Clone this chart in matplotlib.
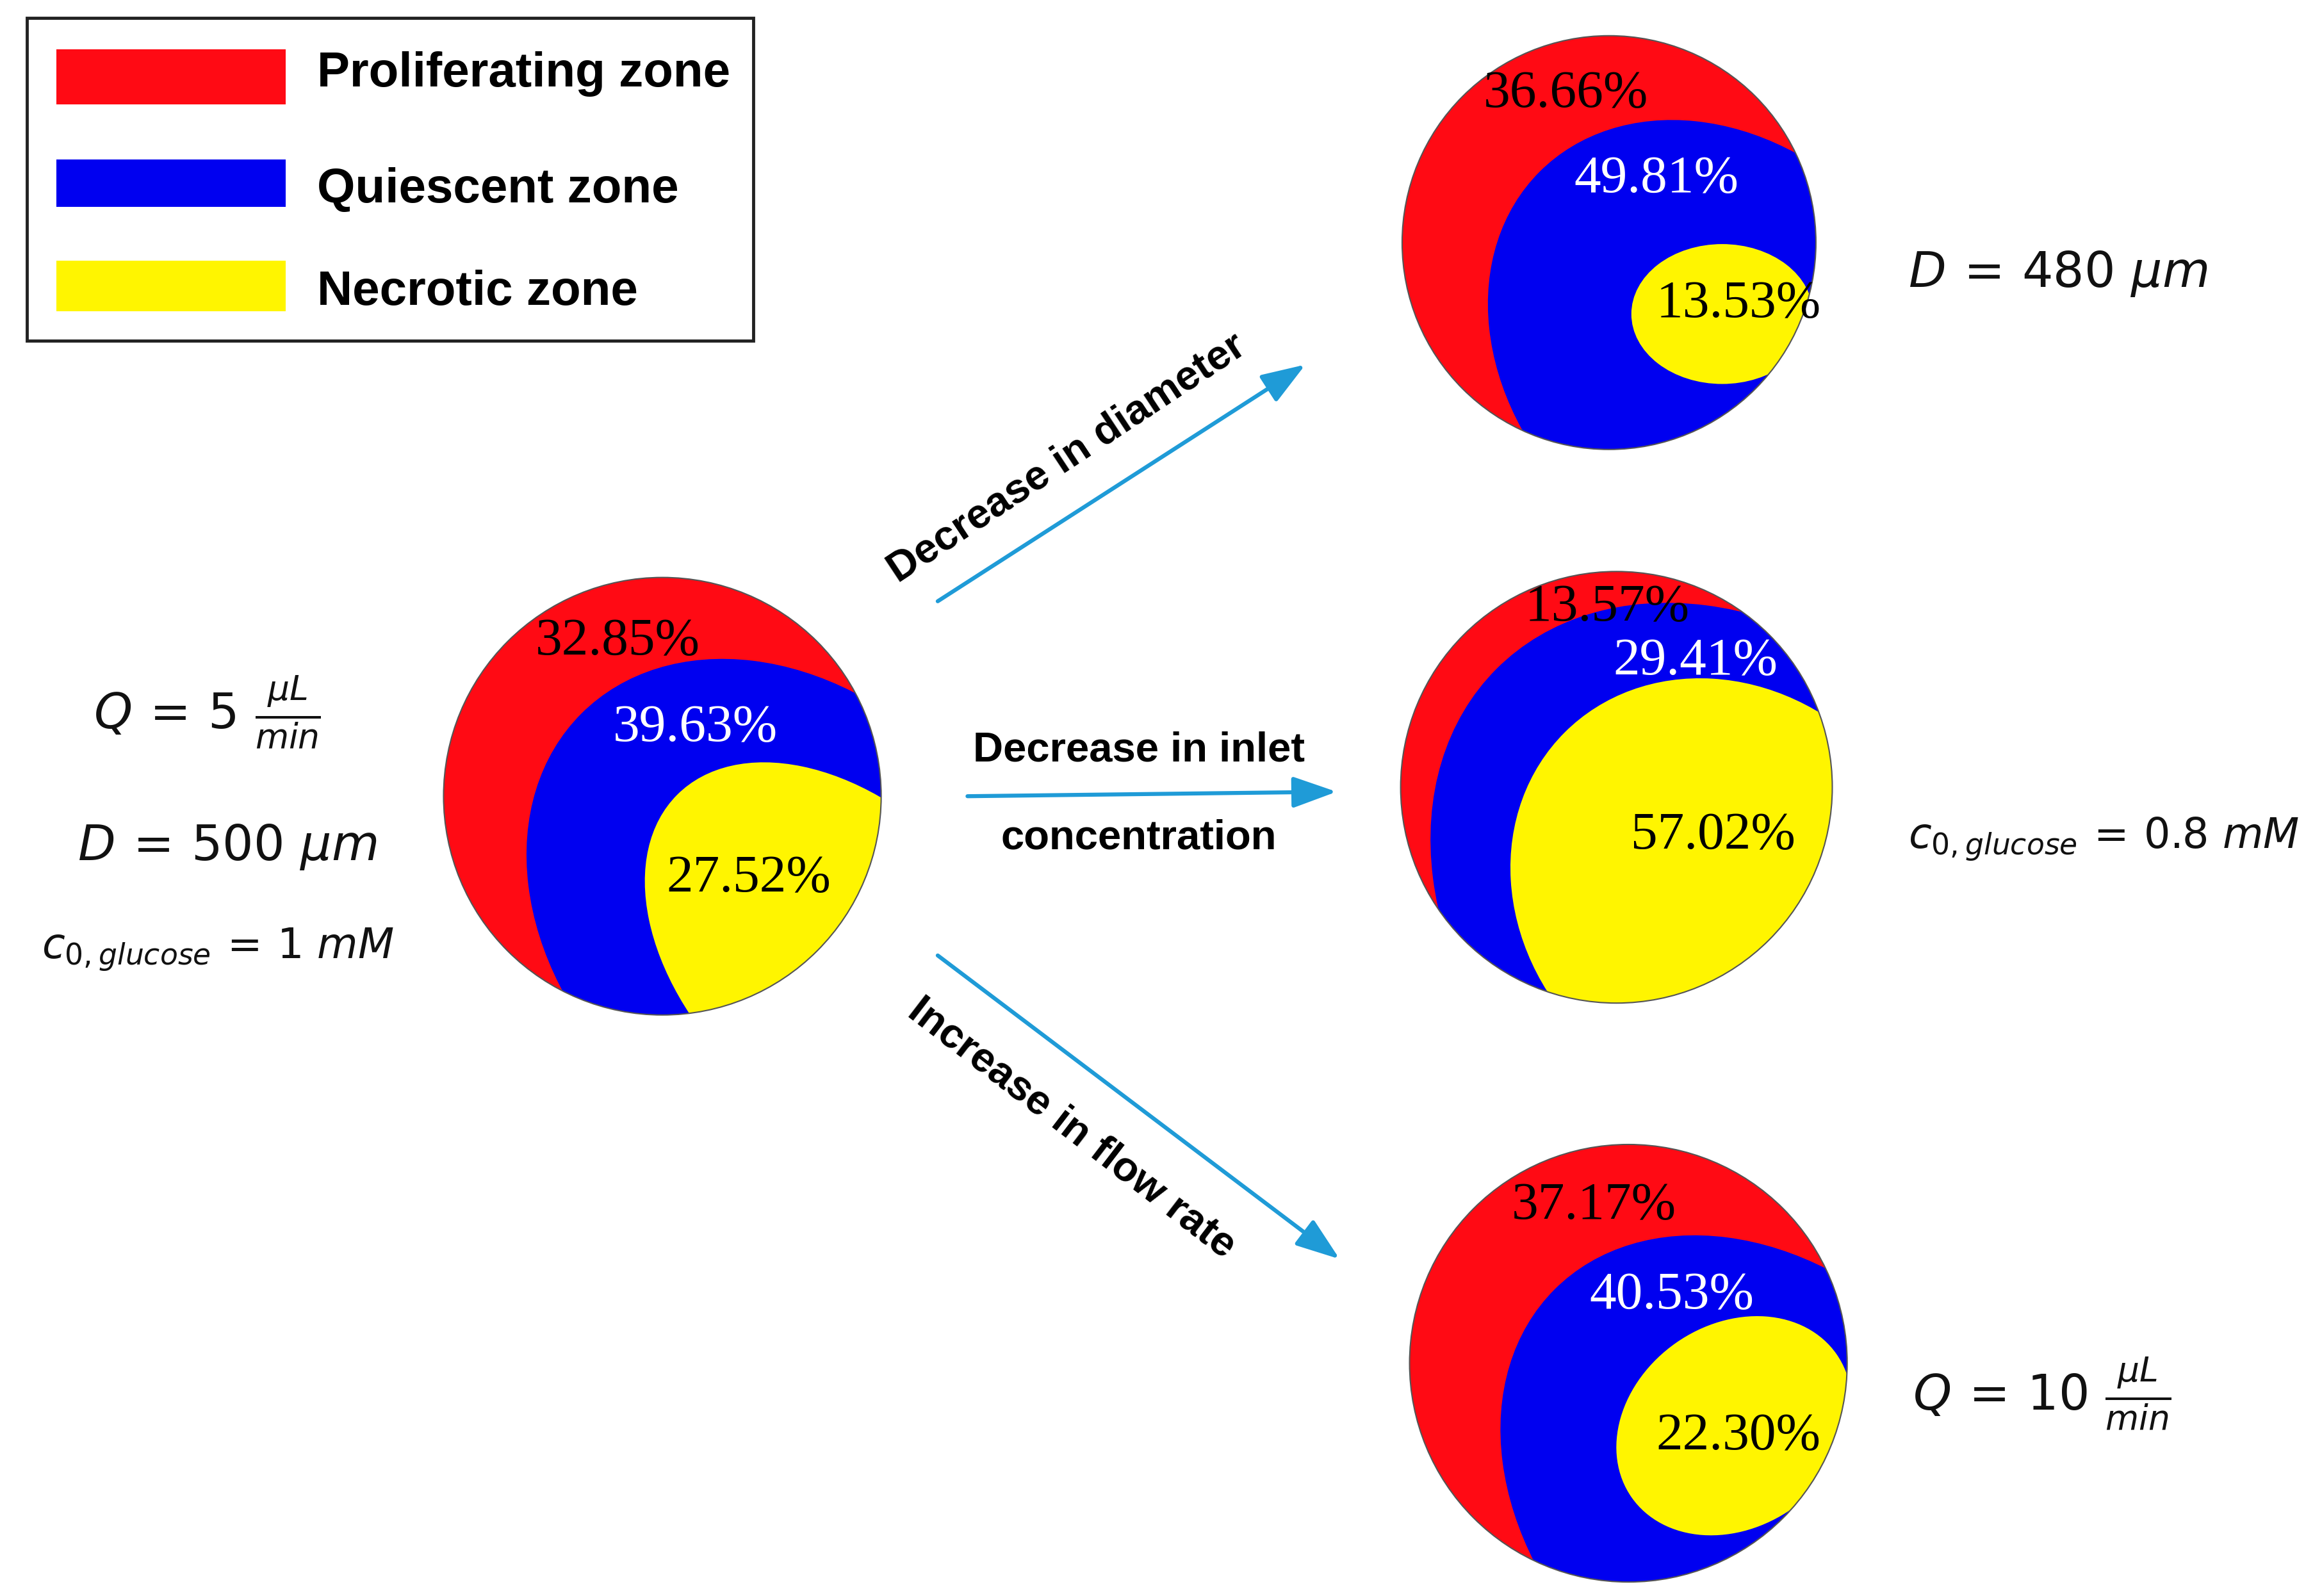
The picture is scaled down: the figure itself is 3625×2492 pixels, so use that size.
import matplotlib
matplotlib.use("Agg")
import matplotlib.pyplot as plt
from matplotlib.patches import Circle, Ellipse, Rectangle

# zone fractions (%) of the tumour spheroid for each case
cases = ["reference", "smaller diameter", "lower inlet glucose", "higher flow rate"]
proliferating = [32.85, 36.66, 13.57, 37.17]
quiescent = [39.63, 49.81, 29.41, 40.53]
necrotic = [27.52, 13.53, 57.02, 22.30]

zone_names = ["Proliferating zone", "Quiescent zone", "Necrotic zone"]
zone_colors = ["#ff0a14", "#0000f0", "#fff500"]
pct_colors = ["black", "white", "black"]

left_params = [r"$Q\,=\,5\ \frac{\mu L}{min}$", r"$D\,=\,500\ \mu m$",
               r"$c_{0,glucose}\,=\,1\ mM$"]
right_params = [r"$D\,=\,480\ \mu m$", r"$c_{0,glucose}\,=\,0.8\ mM$",
                r"$Q\,=\,10\ \frac{\mu L}{min}$"]
arrow_texts = ["Decrease in diameter", "Decrease in inlet", "concentration",
               "Increase in flow rate"]

# ---- layout (canvas units, y grows downwards) ----
W, H = 1560, 1072.4
disk_xy = [(445, 535), (1081, 163), (1086, 529), (1094, 916)]
disk_r = [147, 139, 145, 147]
# fronts of quiescent / necrotic zones: (centre, width, height, angle), clipped by disk
blue_fronts = [((527, 616), 302, 386, -45), ((1156, 237), 278, 344, -45),
               ((1173, 617), 367, 474, -45), ((1183, 1005), 302, 392, -45)]
yellow_fronts = [((566, 645), 206, 314, -45), ((1157, 211), 122, 94, 0),
                 ((1159, 600), 271, 305, -45), ((1165, 958), 168, 136, -35)]
pct_xy = [[(415, 428), (467, 486), (503, 587)],
          [(1052, 60), (1113, 117), (1168, 201)],
          [(1080, 405), (1139, 441), (1151, 558)],
          [(1071, 807), (1123, 867), (1168, 962)]]
left_xy = [(63, 490), (52, 578), (28, 644)]
right_xy = [(1282, 193), (1282, 570), (1285, 948)]
arrow_tails = [(630, 404), (650, 535), (630, 642)]
arrow_tips = [(877, 245), (898, 532), (900, 846)]
arrow_text_pos = [(717, 308, 33.5), (765, 504, 0), (765, 563, 0), (720, 758, -37.5)]
arrow_color = "#1f9bd7"

fig = plt.figure(figsize=(36.25, 24.92), dpi=100)
ax = fig.add_axes([0, 0, 1, 1])
ax.set_xlim(0, W)
ax.set_ylim(H, 0)
ax.axis("off")

# legend box
ax.add_patch(Rectangle((18, 12), 488, 217, fill=False, ec="#222222", lw=3.5, zorder=2))
sw_top = [33, 107, 175]
sw_h = [37, 32, 34]
base = [58, 136, 205]
for i in range(3):
    ax.add_patch(Rectangle((38, sw_top[i]), 154, sw_h[i], color=zone_colors[i], lw=0))
    ax.text(213, base[i], zone_names[i], fontsize=55, fontweight="bold",
            family="Liberation Sans", va="baseline", ha="left")

# spheroids
for k in range(len(cases)):
    cx, cy = disk_xy[k]
    disk = Circle((cx, cy), disk_r[k], fc=zone_colors[0], ec="none", zorder=3)
    ax.add_patch(disk)
    (bx, by), bw, bh, ba = blue_fronts[k]
    blue = Ellipse((bx, by), bw, bh, angle=ba, fc=zone_colors[1], ec="none", zorder=4)
    ax.add_patch(blue)
    blue.set_clip_path(disk)
    (yx, yy), yw, yh, ya = yellow_fronts[k]
    yel = Ellipse((yx, yy), yw, yh, angle=ya, fc=zone_colors[2], ec="none", zorder=5)
    ax.add_patch(yel)
    yel.set_clip_path(disk)
    ax.add_patch(Circle((cx, cy), disk_r[k], fill=False, ec="#555555", lw=1.5, zorder=6))
    vals = [proliferating[k], quiescent[k], necrotic[k]]
    for j in range(3):
        px, py = pct_xy[k][j]
        ax.text(px, py + 12, "{:.2f}%".format(vals[j]), fontsize=60,
                family="Liberation Serif", color=pct_colors[j],
                ha="center", va="baseline", zorder=7)

# operating conditions
for i in range(3):
    ax.text(left_xy[i][0], left_xy[i][1], left_params[i],
            fontsize=47 if i == 2 else 55, ha="left", va="baseline", color="#111111")
    ax.text(right_xy[i][0], right_xy[i][1], right_params[i],
            fontsize=47 if i == 1 else 55, ha="left", va="baseline", color="#111111")

# arrows
for i in range(3):
    ax.annotate("", xy=arrow_tips[i], xytext=arrow_tails[i],
                arrowprops=dict(arrowstyle="-|>,head_length=0.42,head_width=0.15",
                                mutation_scale=100, color=arrow_color, lw=4.5,
                                shrinkA=0, shrinkB=0))
for t, (x, y, rot) in zip(arrow_texts, arrow_text_pos):
    ax.text(x, y, t, fontsize=47, fontweight="bold", family="Liberation Sans",
            rotation=rot, rotation_mode="anchor", ha="center", va="center")

fig.savefig("out.png", dpi=100, facecolor="white")
